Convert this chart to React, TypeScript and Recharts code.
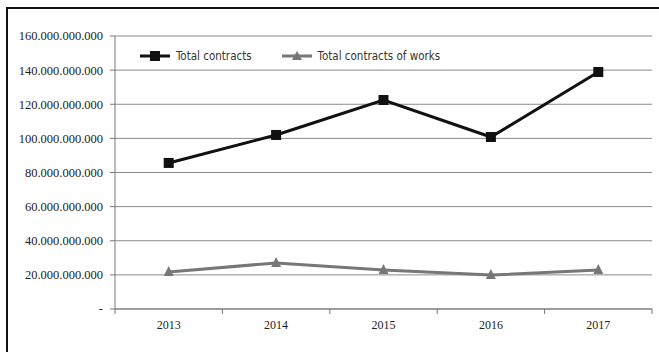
import { LineChart, Line, XAxis, YAxis, CartesianGrid } from "recharts";

const years = ["2013", "2014", "2015", "2016", "2017"];
const totalContracts = [85.6e9, 102e9, 122.5e9, 100.8e9, 138.9e9];
const worksContracts = [21.7e9, 27e9, 22.9e9, 19.9e9, 22.9e9];
const yTicks = [0, 20e9, 40e9, 60e9, 80e9, 100e9, 120e9, 140e9, 160e9];

const data = years.map((year, i) => ({
  year,
  total: totalContracts[i],
  works: worksContracts[i],
}));

const serif = "'Liberation Serif', 'Times New Roman', serif";
const narrow = "'DejaVu Sans Condensed', 'Liberation Sans Narrow', 'Arial Narrow', sans-serif";

const fmt = (v: number) =>
  v === 0 ? "-" : Math.round(v).toString().replace(/\B(?=(\d{3})+(?!\d))/g, ".");

const SquareDot = (props: any) => {
  const { cx, cy } = props;
  if (cx == null || cy == null) return null;
  return <rect x={cx - 5} y={cy - 5} width={10} height={10} fill="#111" />;
};

const TriDot = (props: any) => {
  const { cx, cy } = props;
  if (cx == null || cy == null) return null;
  return (
    <polygon
      points={`${cx},${cy - 6} ${cx - 5},${cy + 4} ${cx + 5},${cy + 4}`}
      fill="#777"
    />
  );
};

const XTick = (props: any) => {
  const { x, y, payload, index, visibleTicksCount } = props;
  const off = payload?.offset || 53.7;
  const last = index === visibleTicksCount - 1;
  return (
    <g>
      <line x1={x - off} y1={y - 8} x2={x - off} y2={y - 3} stroke="#777" />
      {last && <line x1={x + off} y1={y - 8} x2={x + off} y2={y - 3} stroke="#777" />}
      <text x={x} y={y + 12} textAnchor="middle" fontFamily={serif} fontSize={12} fill="#222">
        {payload.value}
      </text>
    </g>
  );
};

const LegendBox = () => (
  <div
    style={{
      position: "absolute",
      left: 140,
      top: 49,
      display: "flex",
      alignItems: "center",
      fontFamily: narrow,
      fontSize: 11.5,
      color: "#333",
      whiteSpace: "nowrap",
    }}
  >
    <svg width={30} height={12} style={{ marginRight: 6 }}>
      <line x1={0} y1={6} x2={30} y2={6} stroke="#111" strokeWidth={3} />
      <rect x={10} y={1} width={10} height={10} fill="#111" />
    </svg>
    <span style={{ marginRight: 30 }}>Total contracts</span>
    <svg width={30} height={12} style={{ marginRight: 6 }}>
      <line x1={0} y1={6} x2={30} y2={6} stroke="#777" strokeWidth={3} />
      <polygon points="15,1 10,10 20,10" fill="#777" />
    </svg>
    <span>Total contracts of works</span>
  </div>
);

export default function App() {
  return (
    <div style={{ position: "absolute", left: 0, top: 0, width: 659, height: 352, background: "#fff", overflow: "hidden" }}>
      <div
        style={{
          position: "absolute",
          left: 6,
          top: 7,
          width: 700,
          height: 400,
          borderLeft: "2px solid #111",
          borderTop: "2px solid #111",
        }}
      />
      <LineChart
        width={659}
        height={352}
        data={data}
        margin={{ top: 36, right: 7, bottom: 13, left: 0 }}
        style={{ position: "absolute", left: 0, top: 0 }}
      >
        <CartesianGrid vertical={false} stroke="#8a8a8a" />
        <XAxis
          dataKey="year"
          scale="band"
          height={30}
          stroke="#777"
          tickLine={false}
          tick={<XTick />}
          interval={0}
        />
        <YAxis
          width={115}
          domain={[0, 160e9]}
          ticks={yTicks}
          tickFormatter={fmt}
          stroke="#777"
          tickSize={5}
          tickMargin={7}
          tick={{ fontFamily: serif, fontSize: 12.5, fill: "#222" }}
          interval={0}
        />
        <Line
          dataKey="total"
          stroke="#111"
          strokeWidth={3}
          dot={<SquareDot />}
          isAnimationActive={false}
        />
        <Line
          dataKey="works"
          stroke="#777"
          strokeWidth={3}
          dot={<TriDot />}
          isAnimationActive={false}
        />
      </LineChart>
      <LegendBox />
    </div>
  );
}
